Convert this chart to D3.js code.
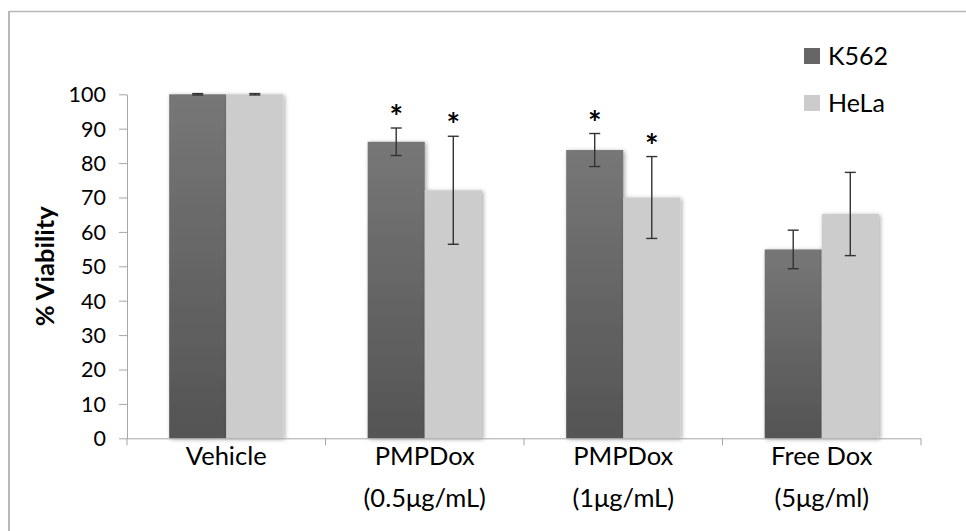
<!DOCTYPE html>
<html><head><meta charset="utf-8">
<script src="https://cdn.jsdelivr.net/npm/d3@7"></script>
<style>body{margin:0;background:#fff;} svg{display:block;}</style>
</head><body>
<svg id="c" width="966" height="531"></svg>
<script>
const categories = ["Vehicle", "PMPDox|(0.5μg/mL)", "PMPDox|(1μg/mL)", "Free Dox|(5μg/ml)"];
const seriesNames = ["K562", "HeLa"];
const k562Values = [100, 86.2, 83.8, 54.9];
const k562Errors = [0.2, 4.0, 4.8, 5.6];
const helaValues = [100, 72.1, 70.0, 65.2];
const helaErrors = [0.2, 15.7, 11.9, 12.1];
const k562Stars = [false, true, true, false];
const helaStars = [false, true, true, false];
const yTicks = [0,10,20,30,40,50,60,70,80,90,100];

const font = "Lato, 'Liberation Sans', sans-serif";
const svg = d3.select("#c");
const defs = svg.append("defs");
const g1 = defs.append("linearGradient").attr("id","darkGrad").attr("x1",0).attr("y1",0).attr("x2",0).attr("y2",1);
g1.append("stop").attr("offset","0%").attr("stop-color","#777777");
g1.append("stop").attr("offset","100%").attr("stop-color","#545454");
const f = defs.append("filter").attr("id","shadow").attr("x","-20%").attr("y","-5%").attr("width","140%").attr("height","110%");
f.append("feDropShadow").attr("dx",1.5).attr("dy",1).attr("stdDeviation",2).attr("flood-color","#000").attr("flood-opacity",0.35);

// frame
svg.append("line").attr("x1",9).attr("x2",966).attr("y1",11.5).attr("y2",11.5).attr("stroke","#b8b8b8").attr("stroke-width",1.5);
svg.append("line").attr("x1",9).attr("x2",9).attr("y1",11).attr("y2",531).attr("stroke","#b8b8b8").attr("stroke-width",2);

const pLeft = 127, pRight = 921, pTop = 94.3, pBottom = 438.3;
const pad = 0.425;
const x = d3.scaleBand().domain(categories).range([pLeft, pRight]).paddingInner(pad).paddingOuter(pad/2);
const xs = d3.scaleBand().domain(seriesNames).range([0, x.bandwidth()]);
const y = d3.scaleLinear().domain([0,100]).range([pBottom, pTop]);

// y axis
const yAxis = svg.append("g").attr("transform",`translate(${pLeft},0)`)
  .call(d3.axisLeft(y).tickValues(yTicks).tickSize(8).tickPadding(13).tickSizeOuter(0));
yAxis.select(".domain").attr("stroke","#a6a6a6").attr("stroke-width",1);
yAxis.selectAll(".tick line").attr("stroke","#a6a6a6");
yAxis.selectAll(".tick text").attr("font-family",font).attr("font-size",21.5).attr("fill","#000").attr("dy","0.34em");

// bars
const data = categories.map((c,i)=>({c, vals:[
  {s:"K562", v:k562Values[i], e:k562Errors[i], star:k562Stars[i]},
  {s:"HeLa", v:helaValues[i], e:helaErrors[i], star:helaStars[i]}]}));
const groups = svg.append("g").selectAll("g").data(data).join("g").attr("transform",d=>`translate(${x(d.c)},0)`);
groups.selectAll("rect").data(d=>d.vals).join("rect")
  .attr("x",d=>xs(d.s)).attr("width",xs.bandwidth())
  .attr("y",d=>y(d.v)).attr("height",d=>y(0)-y(d.v))
  .attr("fill",d=>d.s==="K562"?"url(#darkGrad)":"#cccccc")
  .attr("filter","url(#shadow)");

// x axis
svg.append("line").attr("x1",pLeft).attr("x2",pRight).attr("y1",pBottom+0.5).attr("y2",pBottom+0.5).attr("stroke","#a6a6a6");
const bounds = categories.map(c=>x(c)-x.step()*pad/2).concat([pRight]);
svg.append("g").selectAll("line").data(bounds).join("line")
  .attr("x1",d=>d).attr("x2",d=>d).attr("y1",pBottom).attr("y2",pBottom+7).attr("stroke","#a6a6a6");

// error bars
const eb = groups.selectAll("g.err").data(d=>d.vals).join("g").attr("class","err");
const cap = 5.5;
eb.append("line").attr("x1",d=>xs(d.s)+xs.bandwidth()/2).attr("x2",d=>xs(d.s)+xs.bandwidth()/2)
  .attr("y1",d=>y(d.v+d.e)).attr("y2",d=>y(d.v-d.e)).attr("stroke","#333").attr("stroke-width",1.4);
eb.append("line").attr("x1",d=>xs(d.s)+xs.bandwidth()/2-cap).attr("x2",d=>xs(d.s)+xs.bandwidth()/2+cap)
  .attr("y1",d=>y(d.v+d.e)).attr("y2",d=>y(d.v+d.e)).attr("stroke","#333").attr("stroke-width",1.4);
eb.append("line").attr("x1",d=>xs(d.s)+xs.bandwidth()/2-cap).attr("x2",d=>xs(d.s)+xs.bandwidth()/2+cap)
  .attr("y1",d=>y(d.v-d.e)).attr("y2",d=>y(d.v-d.e)).attr("stroke","#333").attr("stroke-width",1.4);
eb.filter(d=>d.star).append("text")
  .attr("x",d=>xs(d.s)+xs.bandwidth()/2).attr("y",d=>y(d.v+d.e)+1)
  .attr("text-anchor","middle").attr("font-family",font).attr("font-weight","bold").attr("font-size",32)
  .text("*");

// x labels
const xl = svg.append("g").selectAll("text").data(categories).join("text")
  .attr("text-anchor","middle").attr("font-family",font).attr("font-size",25.5).attr("fill","#000");
xl.each(function(d){
  const parts = d.split("|");
  const t = d3.select(this);
  parts.forEach((p,i)=>t.append("tspan").attr("x",x(d)+x.bandwidth()/2).attr("y",465+i*42).text(p));
});

// y title
svg.append("text").attr("transform",`translate(54,${(pTop+pBottom)/2}) rotate(-90)`)
  .attr("text-anchor","middle").attr("font-family",font).attr("font-weight","bold").attr("font-size",25.5)
  .text("% Viability");

// legend
const lg = svg.append("g").selectAll("g").data(seriesNames).join("g")
  .attr("transform",(d,i)=>`translate(804,${48+i*47})`);
lg.append("rect").attr("width",16).attr("height",16).attr("fill",(d,i)=>i===0?"#666666":"#cccccc");
lg.append("text").attr("x",24).attr("y",8).attr("dy","0.35em").attr("font-family",font).attr("font-size",25).text(d=>d);
</script>
</body></html>
